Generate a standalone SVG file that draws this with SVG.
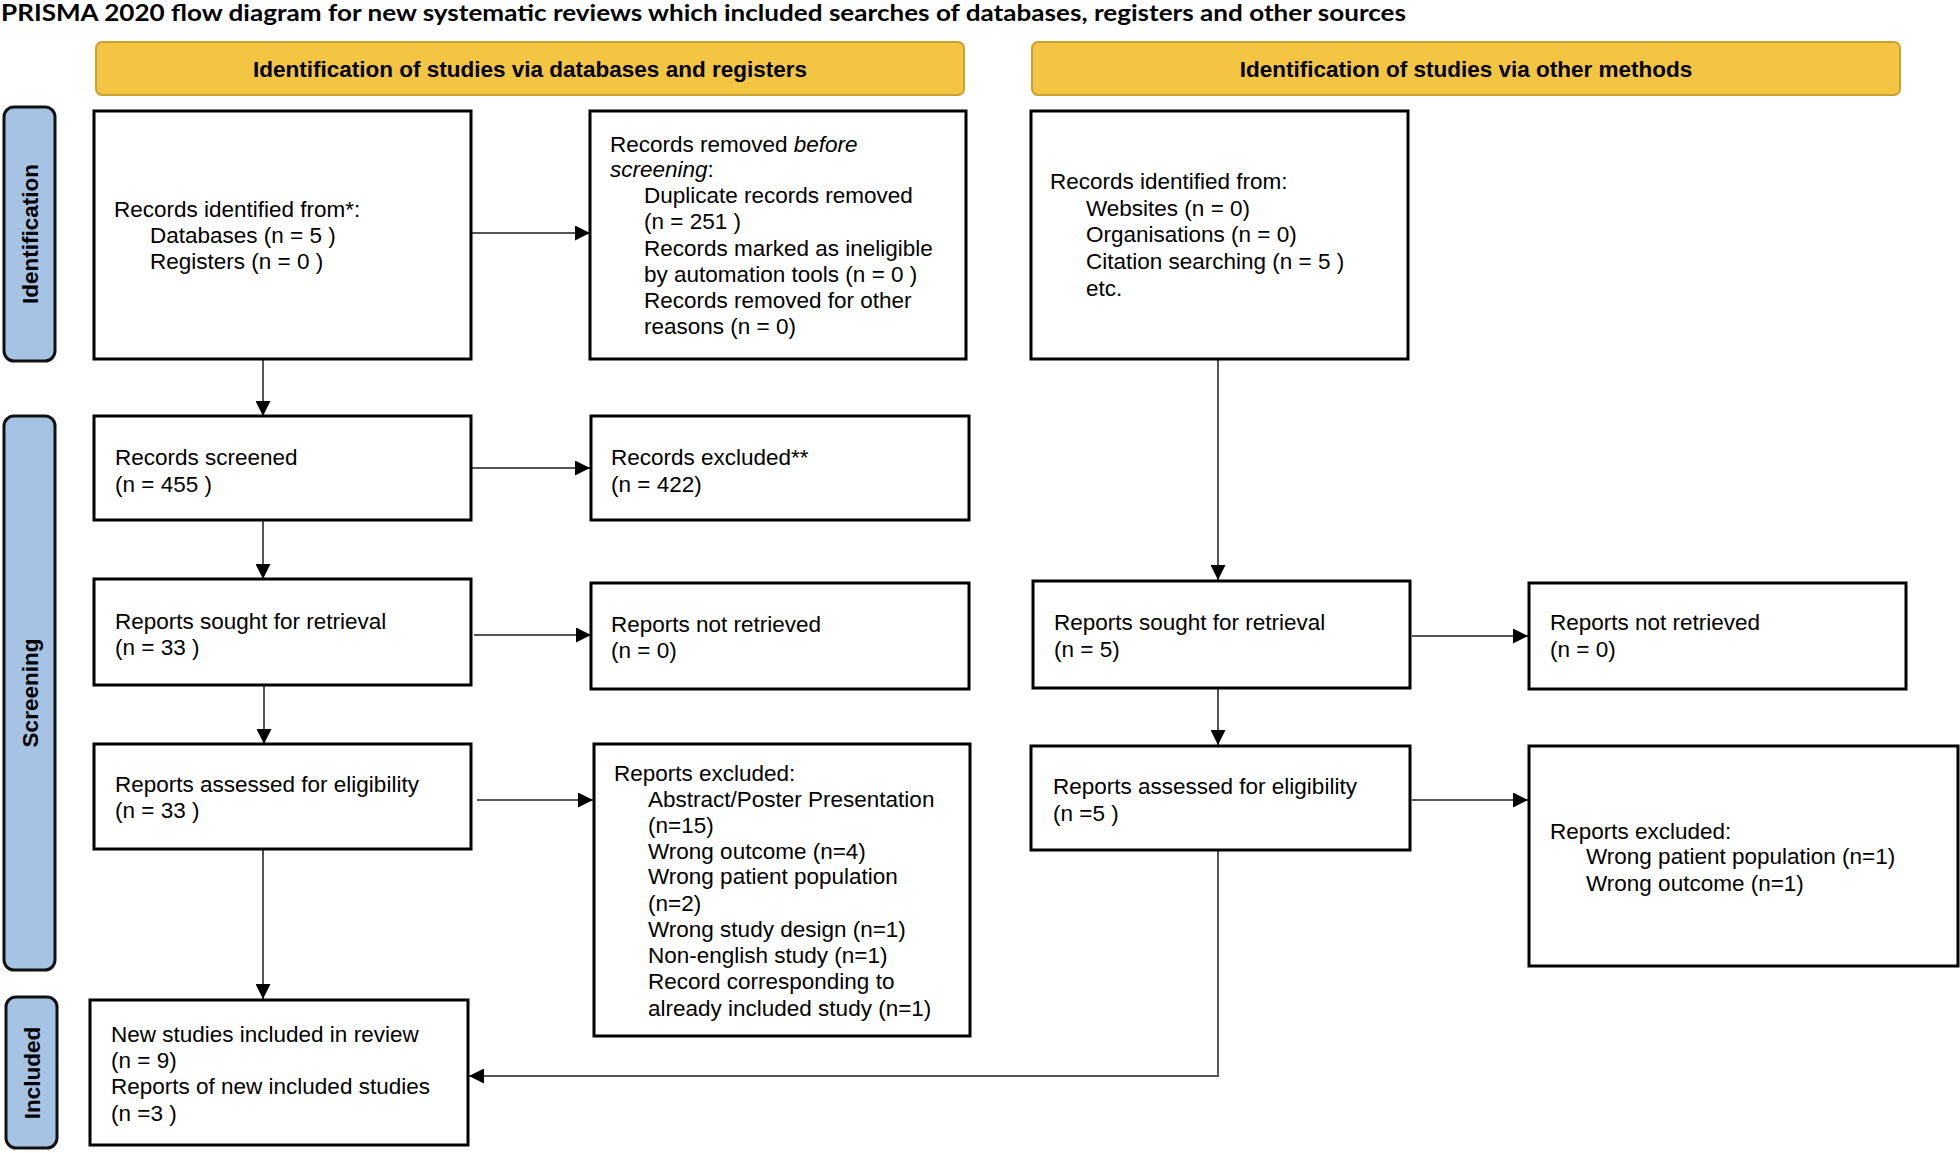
<svg xmlns="http://www.w3.org/2000/svg" width="1960" height="1153" viewBox="0 0 1960 1153">
<style>
.box{fill:#fff;stroke:#000;stroke-width:3}
.hdr{fill:#F4C443;stroke:#C9A232;stroke-width:2}
.side{fill:#A7C3E4;stroke:#111;stroke-width:3}
.t{font-family:"Liberation Sans",Arial,sans-serif;font-size:22.5px;fill:#000}
.hb{font-family:"Liberation Sans",Arial,sans-serif;font-size:22.5px;font-weight:bold;fill:#000;text-anchor:middle}
.sl{font-family:"Liberation Sans",Arial,sans-serif;font-size:22.5px;font-weight:bold;fill:#000;text-anchor:middle}
.title{font-family:Lato,"Liberation Sans",sans-serif;font-size:23px;font-weight:bold;fill:#000}
.c{fill:none;stroke:#555;stroke-width:2}
</style>
<defs>
<marker id="arr" markerUnits="userSpaceOnUse" markerWidth="15" markerHeight="15" refX="15" refY="7.5" orient="auto">
<path d="M0,0 L15,7.5 L0,15 z" fill="#000"/>
</marker>
</defs>
<rect width="1960" height="1153" fill="#fff"/>
<text class="title" x="1" y="21" textLength="1405" lengthAdjust="spacingAndGlyphs">PRISMA 2020 flow diagram for new systematic reviews which included searches of databases, registers and other sources</text>

<g id="hdr-left"><rect class="hdr" x="96" y="42" width="868" height="53" rx="6"/><text class="hb" x="530" y="77">Identification of studies via databases and registers</text></g>
<g id="hdr-right"><rect class="hdr" x="1032" y="42" width="868" height="53" rx="6"/><text class="hb" x="1466" y="77">Identification of studies via other methods</text></g>

<g id="side-identification"><rect class="side" x="4" y="107" width="51" height="254" rx="10"/><text class="sl" transform="translate(38,234) rotate(-90)">Identification</text></g>
<g id="side-screening"><rect class="side" x="4" y="416" width="51" height="554" rx="10"/><text class="sl" transform="translate(38,693) rotate(-90)">Screening</text></g>
<g id="side-included"><rect class="side" x="6" y="997" width="51" height="151" rx="10"/><text class="sl" transform="translate(40,1073) rotate(-90)">Included</text></g>

<g id="connectors">
<line class="c" x1="472" y1="233" x2="590" y2="233" marker-end="url(#arr)"/>
<line class="c" x1="263" y1="359" x2="263" y2="416" marker-end="url(#arr)"/>
<line class="c" x1="472" y1="468" x2="590" y2="468" marker-end="url(#arr)"/>
<line class="c" x1="263" y1="520" x2="263" y2="579" marker-end="url(#arr)"/>
<line class="c" x1="474" y1="635" x2="591" y2="635" marker-end="url(#arr)"/>
<line class="c" x1="264" y1="685" x2="264" y2="744" marker-end="url(#arr)"/>
<line class="c" x1="477" y1="800" x2="593" y2="800" marker-end="url(#arr)"/>
<line class="c" x1="263" y1="849" x2="263" y2="999" marker-end="url(#arr)"/>
<line class="c" x1="1218" y1="359" x2="1218" y2="580" marker-end="url(#arr)"/>
<line class="c" x1="1218" y1="688" x2="1218" y2="745" marker-end="url(#arr)"/>
<line class="c" x1="1412" y1="636" x2="1528" y2="636" marker-end="url(#arr)"/>
<line class="c" x1="1412" y1="800" x2="1528" y2="800" marker-end="url(#arr)"/>
<polyline class="c" points="1218,850 1218,1076 469,1076" marker-end="url(#arr)"/>
</g>

<g id="n-records-identified"><rect class="box" x="94" y="111" width="377" height="248"/>
<text class="t" x="114" y="217">Records identified from*:</text>
<text class="t" x="150" y="243">Databases (n = 5 )</text>
<text class="t" x="150" y="269">Registers (n = 0 )</text></g>

<g id="n-records-removed"><rect class="box" x="590" y="111" width="376" height="248"/>
<text class="t" x="610" y="152">Records removed <tspan font-style="italic">before</tspan></text>
<text class="t" x="610" y="177"><tspan font-style="italic">screening</tspan>:</text>
<text class="t" x="644" y="203">Duplicate records removed</text>
<text class="t" x="644" y="229">(n = 251 )</text>
<text class="t" x="644" y="256">Records marked as ineligible</text>
<text class="t" x="644" y="282">by automation tools (n = 0 )</text>
<text class="t" x="644" y="308">Records removed for other</text>
<text class="t" x="644" y="334">reasons (n = 0)</text></g>

<g id="n-other-identified"><rect class="box" x="1031" y="111" width="377" height="248"/>
<text class="t" x="1050" y="189">Records identified from:</text>
<text class="t" x="1086" y="216">Websites (n = 0)</text>
<text class="t" x="1086" y="242">Organisations (n = 0)</text>
<text class="t" x="1086" y="269">Citation searching (n = 5 )</text>
<text class="t" x="1086" y="296">etc.</text></g>

<g id="n-records-screened"><rect class="box" x="94" y="416" width="377" height="104"/>
<text class="t" x="115" y="465">Records screened</text>
<text class="t" x="115" y="492">(n = 455 )</text></g>

<g id="n-records-excluded"><rect class="box" x="591" y="416" width="378" height="104"/>
<text class="t" x="611" y="465">Records excluded**</text>
<text class="t" x="611" y="492">(n = 422)</text></g>

<g id="n-sought-left"><rect class="box" x="94" y="579" width="377" height="106"/>
<text class="t" x="115" y="629">Reports sought for retrieval</text>
<text class="t" x="115" y="655">(n = 33 )</text></g>

<g id="n-notretrieved-left"><rect class="box" x="591" y="583" width="378" height="106"/>
<text class="t" x="611" y="632">Reports not retrieved</text>
<text class="t" x="611" y="658">(n = 0)</text></g>

<g id="n-sought-right"><rect class="box" x="1033" y="581" width="377" height="107"/>
<text class="t" x="1054" y="630">Reports sought for retrieval</text>
<text class="t" x="1054" y="657">(n = 5)</text></g>

<g id="n-notretrieved-right"><rect class="box" x="1529" y="583" width="377" height="106"/>
<text class="t" x="1550" y="630">Reports not retrieved</text>
<text class="t" x="1550" y="657">(n = 0)</text></g>

<g id="n-assessed-left"><rect class="box" x="94" y="744" width="377" height="105"/>
<text class="t" x="115" y="792">Reports assessed for eligibility</text>
<text class="t" x="115" y="818">(n = 33 )</text></g>

<g id="n-excluded-left"><rect class="box" x="594" y="744" width="376" height="292"/>
<text class="t" x="614" y="781">Reports excluded:</text>
<text class="t" x="648" y="807">Abstract/Poster Presentation</text>
<text class="t" x="648" y="833">(n=15)</text>
<text class="t" x="648" y="859">Wrong outcome (n=4)</text>
<text class="t" x="648" y="884">Wrong patient population</text>
<text class="t" x="648" y="911">(n=2)</text>
<text class="t" x="648" y="937">Wrong study design (n=1)</text>
<text class="t" x="648" y="963">Non-english study (n=1)</text>
<text class="t" x="648" y="989">Record corresponding to</text>
<text class="t" x="648" y="1016">already included study (n=1)</text></g>

<g id="n-assessed-right"><rect class="box" x="1031" y="746" width="379" height="104"/>
<text class="t" x="1053" y="794">Reports assessed for eligibility</text>
<text class="t" x="1053" y="821">(n =5 )</text></g>

<g id="n-excluded-right"><rect class="box" x="1529" y="746" width="429" height="220"/>
<text class="t" x="1550" y="839">Reports excluded:</text>
<text class="t" x="1586" y="864">Wrong patient population (n=1)</text>
<text class="t" x="1586" y="891">Wrong outcome (n=1)</text></g>

<g id="n-included"><rect class="box" x="90" y="1000" width="378" height="145"/>
<text class="t" x="111" y="1042">New studies included in review</text>
<text class="t" x="111" y="1068">(n = 9)</text>
<text class="t" x="111" y="1094">Reports of new included studies</text>
<text class="t" x="111" y="1121">(n =3 )</text></g>
</svg>
